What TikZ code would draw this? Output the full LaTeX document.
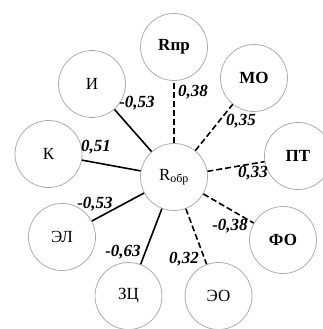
\documentclass[tikz,border=0pt]{standalone}
\usepackage{fontspec}
\setmainfont{Liberation Serif}
\begin{document}
\begin{tikzpicture}[x=1pt,y=-1pt,
  circ/.style={circle,draw=gray!65,line width=0.8pt,minimum size=67pt,inner sep=0pt,
    font=\fontsize{17}{17}\selectfont},
  bcirc/.style={circ,font=\fontsize{17}{17}\selectfont\bfseries},
  lab/.style={inner sep=0pt,font=\fontsize{17}{17}\selectfont\bfseries\itshape},
  solidln/.style={line width=1.6pt},
  dashln/.style={line width=1.6pt,dash pattern=on 6pt off 3pt}]
\useasboundingbox (0,0) rectangle (323,329);
\node[circ] (c) at (174,177) {R\textsubscript{обр}};
\node[bcirc] (rpr) at (174,47) {Rпр};
\node[circ] (i) at (92,84) {И};
\node[bcirc] (mo) at (254,78) {МО};
\node[circ] (k) at (48.5,154) {К};
\node[bcirc] (pt) at (298,156) {ПТ};
\node[circ] (el) at (62,237) {ЭЛ};
\node[bcirc] (fo) at (283,240) {ФО};
\node[circ] (zc) at (128.5,296) {ЗЦ};
\node[circ] (eo) at (218.5,296) {ЭО};
\draw[solidln] (c) -- (i);
\draw[solidln] (c) -- (k);
\draw[solidln] (c) -- (el);
\draw[solidln] (c) -- (zc);
\draw[dashln] (c) -- (rpr);
\draw[dashln] (c) -- (mo);
\draw[dashln] (c) -- (pt);
\draw[dashln] (c) -- (fo);
\draw[dashln] (c) -- (eo);
\node[lab] (li) at (137,103) {-0,53};
\node[lab] (lr) at (193,92) {0,38};
\node[lab] (lm) at (241,121) {0,35};
\node[lab] (lk) at (96,147) {0,51};
\node[lab] (lp) at (253,173) {0,33};
\node[lab] (le) at (95,204) {-0,53};
\node[lab] (lf) at (230,226) {-0,38};
\node[lab] (lz) at (123,252) {-0,63};
\node[lab] (lo) at (184,259) {0,32};
\end{tikzpicture}
\end{document}
